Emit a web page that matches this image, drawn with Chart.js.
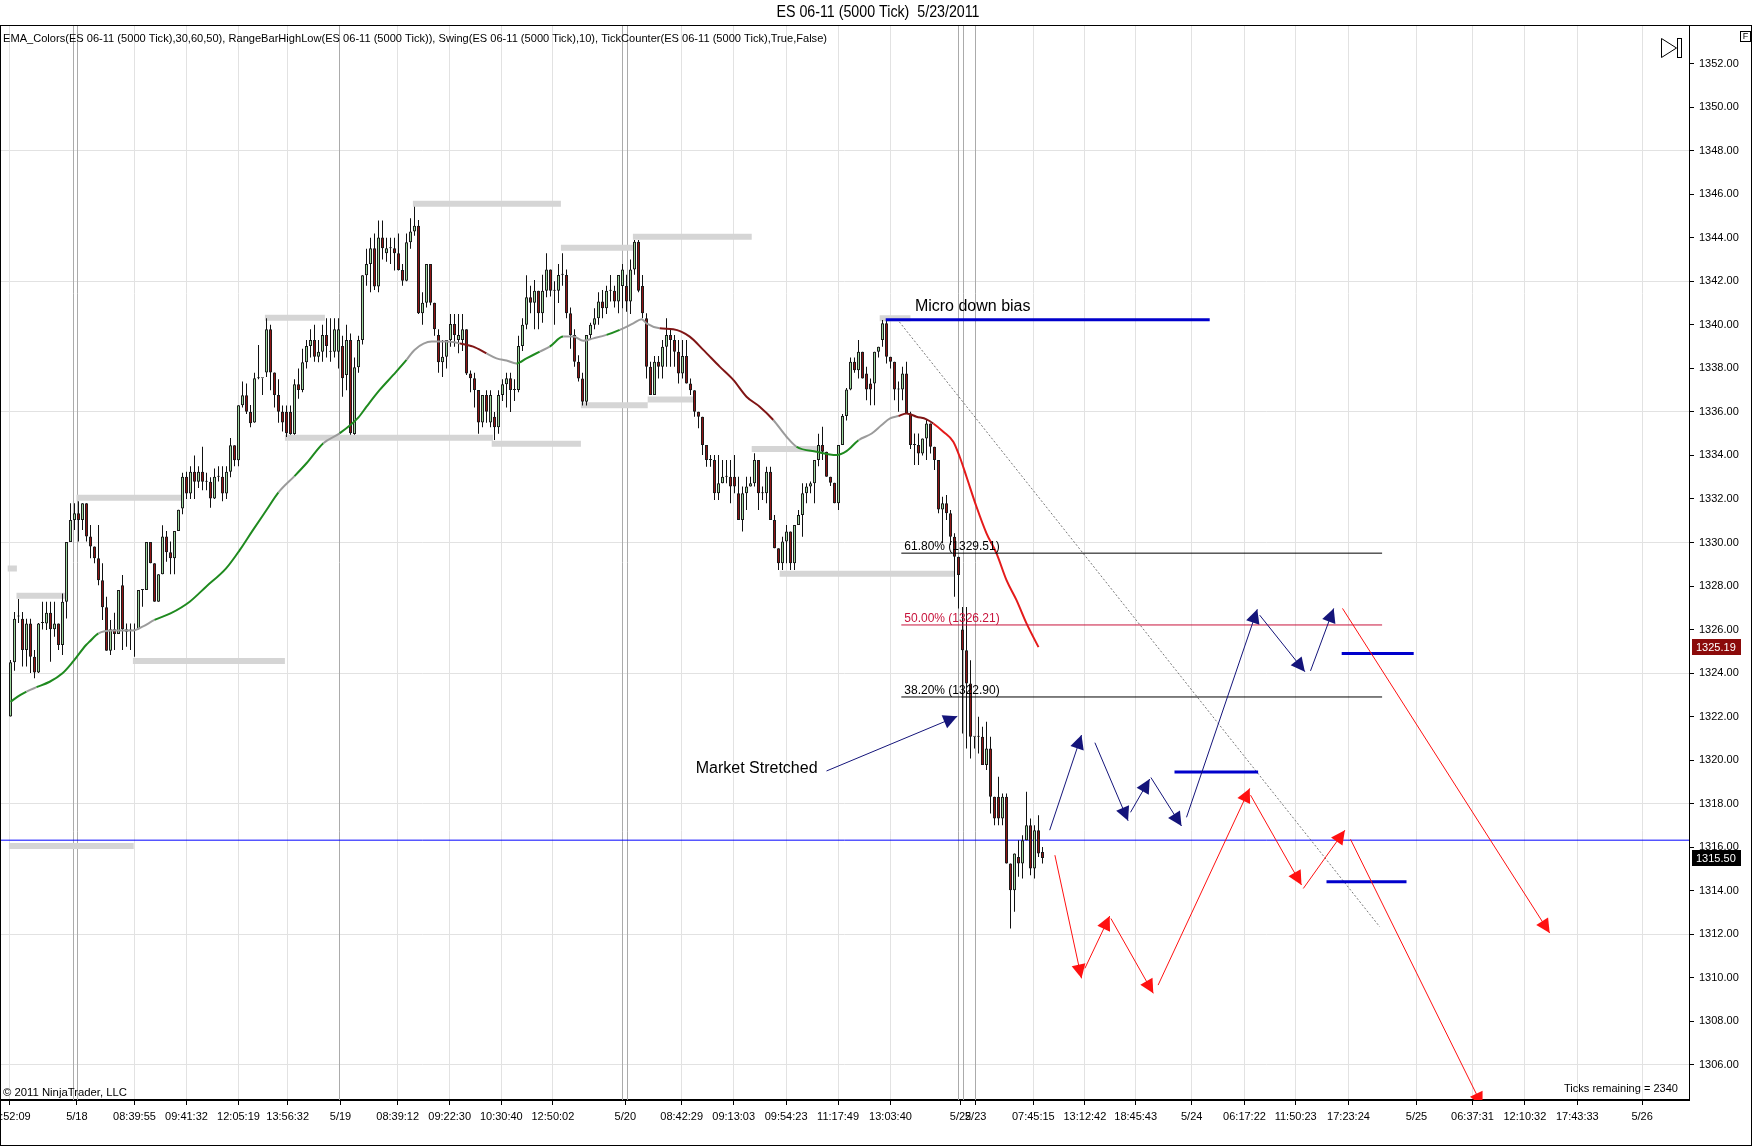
<!DOCTYPE html>
<html>
<head>
<meta charset="utf-8">
<title>ES 06-11 (5000 Tick) 5/23/2011</title>
<script src="https://cdn.jsdelivr.net/npm/chart.js@4.4.1/dist/chart.umd.min.js"></script>
<style>
  html, body { margin: 0; padding: 0; background: #fff; }
  #wrap { width: 1752px; height: 1147px; }
</style>
</head>
<body>
<div id="wrap"><canvas id="esChart" width="1752" height="1147"></canvas></div>
<script>
// bar data, one entry per 5000-tick bar (index = bar number)
const opens = [
  1322.0, 1324.5, 1326.6, 1326.5, 1325.06, 1326.28, 1324.75, 1324.02, 1326.3, 1326.28,
  1326.77, 1326.01, 1326.28, 1325.29, 1327.28, 1330.02, 1331.03, 1331.34, 1331.03, 1331.8,
  1330.27, 1329.81, 1329.27, 1328.27, 1327.02, 1325.03, 1326.01, 1325.79, 1328.04, 1326.01,
  1325.95, 1325.95, 1326.01, 1327.82, 1327.82, 1330.02, 1329.04, 1327.28, 1328.54, 1330.27,
  1329.55, 1329.27, 1330.53, 1331.56, 1333.02, 1332.25, 1333.25, 1332.79, 1333.25, 1332.79,
  1332.79, 1332.02, 1333.02, 1333.02, 1332.25, 1333.25, 1334.47, 1333.78, 1336.31, 1336.77,
  1336.0, 1335.51, 1337.55, 1337.55, 1337.81, 1339.8, 1337.81, 1336.78, 1336.01, 1336.01,
  1336.0, 1334.99, 1337.27, 1337.01, 1338.28, 1339.03, 1339.31, 1338.54, 1338.77, 1339.54,
  1338.77, 1338.77, 1338.77, 1339.03, 1337.7, 1339.31, 1334.99, 1338.05, 1339.31, 1342.28,
  1342.8, 1343.52, 1341.76, 1344.02, 1343.29, 1343.52, 1343.52, 1343.29, 1342.52, 1342.03,
  1343.8, 1344.29, 1344.55, 1340.53, 1341.02, 1342.8, 1341.02, 1339.54, 1338.28, 1338.54,
  1339.31, 1340.04, 1339.31, 1339.31, 1339.8, 1337.77, 1337.55, 1337.01, 1335.51, 1336.78,
  1335.51, 1335.78, 1335.29, 1336.78, 1337.27, 1337.55, 1337.01, 1337.01, 1339.03, 1340.0,
  1341.27, 1341.02, 1341.57, 1340.53, 1341.57, 1342.55, 1341.57, 1341.57, 1342.3, 1342.29,
  1340.53, 1339.54, 1338.31, 1337.54, 1336.47, 1339.54, 1340.0, 1340.3, 1341.07, 1340.76,
  1341.57, 1341.57, 1341.07, 1341.79, 1341.79, 1341.07, 1342.55, 1343.82, 1341.79, 1340.3,
  1338.08, 1336.78, 1338.31, 1338.08, 1339.0, 1339.54, 1339.3, 1338.77, 1337.77, 1338.57,
  1337.31, 1337.0, 1336.01, 1335.78, 1334.48, 1333.79, 1333.79, 1332.26, 1332.72, 1333.02,
  1333.02, 1333.02, 1332.26, 1331.03, 1332.26, 1332.57, 1332.72, 1333.79, 1332.26, 1332.26,
  1333.25, 1331.03, 1329.73, 1329.04, 1330.04, 1330.5, 1329.04, 1330.8, 1331.26, 1332.26,
  1332.57, 1332.72, 1333.79, 1334.48, 1334.17, 1333.02, 1332.75, 1331.8, 1334.48, 1335.81,
  1337.03, 1338.31, 1337.92, 1338.77, 1337.77, 1337.31, 1337.31, 1338.77, 1339.3, 1340.07,
  1338.54, 1338.31, 1337.03, 1337.03, 1337.77, 1335.93, 1334.48, 1334.48, 1334.09, 1334.78,
  1335.47, 1334.4, 1333.79, 1331.52, 1331.8, 1331.34, 1330.26, 1329.34, 1326.0, 1325.05,
  1323.52, 1321.07, 1321.07, 1321.07, 1319.77, 1320.53, 1318.31, 1318.31, 1317.32, 1318.31,
  1315.25, 1314.02, 1315.55, 1315.25, 1316.32, 1317.01, 1315.02, 1316.78, 1315.78
];
const highs = [
  1324.6, 1326.8, 1327.4, 1326.8, 1326.5, 1326.5, 1325.06, 1326.3, 1327.28, 1327.28,
  1327.28, 1327.28, 1326.28, 1327.66, 1330.02, 1331.8, 1331.8, 1331.9, 1331.8, 1331.8,
  1330.8, 1329.81, 1330.8, 1329.04, 1327.51, 1326.44, 1326.77, 1327.82, 1328.5, 1326.28,
  1326.28, 1326.28, 1327.82, 1327.82, 1330.02, 1330.02, 1329.04, 1328.54, 1330.79, 1330.53,
  1330.04, 1330.53, 1331.5, 1333.2, 1333.25, 1333.5, 1334.0, 1333.5, 1334.4, 1333.2,
  1333.0, 1333.4, 1333.5, 1333.5, 1333.5, 1334.8, 1334.47, 1336.31, 1337.4, 1337.3,
  1336.32, 1337.8, 1339.08, 1337.55, 1340.3, 1340.0, 1337.81, 1337.5, 1336.3, 1336.3,
  1336.3, 1337.5, 1338.0, 1338.9, 1339.3, 1339.8, 1340.0, 1339.31, 1340.0, 1340.3,
  1340.3, 1340.3, 1340.3, 1339.5, 1340.0, 1339.6, 1338.5, 1339.5, 1342.28, 1343.5,
  1344.0, 1344.2, 1344.8, 1344.8, 1344.0, 1344.0, 1344.0, 1344.2, 1342.8, 1344.2,
  1344.9, 1345.43, 1344.82, 1341.5, 1342.8, 1342.8, 1341.02, 1339.8, 1339.3, 1339.3,
  1340.5, 1340.5, 1340.5, 1340.5, 1339.8, 1337.9, 1337.8, 1337.01, 1336.78, 1337.0,
  1337.0, 1336.0, 1337.0, 1337.5, 1337.8, 1337.8, 1337.5, 1339.5, 1340.3, 1342.28,
  1341.8, 1342.06, 1341.57, 1342.3, 1343.29, 1342.55, 1342.0, 1342.8, 1343.29, 1342.55,
  1340.8, 1339.8, 1338.6, 1337.8, 1339.54, 1340.1, 1340.76, 1341.5, 1341.6, 1341.8,
  1342.29, 1341.8, 1342.29, 1342.8, 1342.3, 1343.0, 1343.9, 1343.9, 1342.29, 1340.53,
  1338.3, 1338.57, 1338.57, 1339.3, 1340.3, 1339.8, 1339.54, 1339.3, 1339.3, 1339.3,
  1337.54, 1337.0, 1336.01, 1335.78, 1334.48, 1334.02, 1334.02, 1334.02, 1333.79, 1333.79,
  1333.79, 1334.02, 1333.02, 1332.57, 1333.02, 1333.02, 1334.1, 1333.79, 1332.57, 1333.48,
  1333.48, 1331.26, 1329.73, 1330.26, 1330.8, 1330.5, 1330.8, 1331.49, 1332.72, 1332.72,
  1332.8, 1333.79, 1335.0, 1335.32, 1334.17, 1333.02, 1332.75, 1334.48, 1335.9, 1337.1,
  1338.5, 1338.5, 1339.3, 1338.77, 1338.08, 1337.54, 1338.77, 1339.0, 1340.22, 1340.22,
  1338.54, 1338.31, 1337.4, 1338.08, 1338.31, 1336.01, 1335.01, 1335.01, 1334.78, 1335.63,
  1335.47, 1334.4, 1333.79, 1332.1, 1332.18, 1331.49, 1330.42, 1329.34, 1327.04, 1327.04,
  1324.59, 1321.07, 1321.99, 1321.53, 1321.76, 1321.07, 1318.31, 1319.23, 1318.47, 1318.47,
  1315.25, 1315.71, 1316.32, 1316.55, 1318.54, 1317.32, 1317.01, 1317.47, 1316.01
];
const lows = [
  1322.0, 1324.1, 1326.3, 1324.3, 1324.3, 1324.0, 1323.76, 1324.0, 1326.0, 1325.98,
  1324.52, 1325.67, 1325.06, 1324.83, 1326.51, 1330.02, 1330.57, 1330.04, 1330.57, 1330.04,
  1329.27, 1329.04, 1328.04, 1326.44, 1325.03, 1324.83, 1325.06, 1325.79, 1325.06, 1325.21,
  1325.06, 1324.75, 1326.01, 1327.05, 1327.82, 1329.04, 1327.28, 1327.28, 1328.54, 1329.12,
  1328.54, 1328.54, 1330.53, 1331.3, 1332.0, 1332.0, 1332.0, 1332.5, 1332.4, 1332.4,
  1331.6, 1332.0, 1332.8, 1331.9, 1332.0, 1333.0, 1333.5, 1333.5, 1336.2, 1335.9,
  1335.3, 1335.5, 1337.5, 1336.78, 1337.6, 1337.0, 1336.2, 1335.5, 1335.1, 1334.85,
  1334.95, 1334.95, 1336.6, 1336.9, 1338.0, 1338.5, 1338.3, 1338.28, 1338.3, 1338.5,
  1338.3, 1338.5, 1338.0, 1336.7, 1337.0, 1334.95, 1334.95, 1337.8, 1339.1, 1341.8,
  1341.5, 1341.6, 1341.5, 1343.0, 1342.9, 1342.8, 1342.5, 1342.5, 1341.8, 1342.0,
  1343.5, 1344.1, 1340.5, 1340.0, 1340.8, 1340.9, 1339.5, 1337.8, 1337.6, 1338.0,
  1339.0, 1339.0, 1338.7, 1338.8, 1337.7, 1336.9, 1336.2, 1335.0, 1335.3, 1335.5,
  1335.3, 1334.71, 1335.0, 1336.5, 1336.2, 1336.0, 1336.5, 1336.9, 1338.8, 1339.8,
  1340.53, 1339.8, 1339.8, 1340.1, 1341.27, 1341.3, 1340.0, 1341.0, 1341.8, 1340.3,
  1338.9, 1338.08, 1337.4, 1336.3, 1336.3, 1339.3, 1339.8, 1340.0, 1340.3, 1340.5,
  1341.07, 1340.8, 1340.53, 1340.76, 1340.6, 1340.5, 1342.3, 1341.5, 1340.3, 1337.54,
  1336.78, 1336.78, 1337.54, 1337.54, 1338.08, 1338.08, 1338.08, 1337.31, 1337.54, 1337.31,
  1336.78, 1335.78, 1335.25, 1334.02, 1333.48, 1333.48, 1331.95, 1331.95, 1332.72, 1332.72,
  1331.8, 1332.26, 1331.03, 1330.5, 1331.49, 1332.57, 1332.57, 1331.49, 1331.95, 1331.8,
  1331.03, 1329.73, 1328.73, 1328.73, 1329.04, 1328.73, 1328.73, 1330.8, 1330.26, 1331.8,
  1332.26, 1331.8, 1333.5, 1333.79, 1333.02, 1332.6, 1331.8, 1331.49, 1334.48, 1335.6,
  1337.0, 1337.8, 1337.54, 1337.54, 1336.54, 1336.31, 1336.31, 1338.5, 1339.0, 1338.23,
  1338.0, 1336.54, 1336.01, 1336.54, 1335.93, 1334.3, 1333.56, 1333.56, 1334.0, 1333.79,
  1334.09, 1333.33, 1331.34, 1329.96, 1331.03, 1329.88, 1327.51, 1326.97, 1321.22, 1320.53,
  1320.07, 1320.53, 1320.3, 1319.77, 1319.54, 1317.55, 1317.01, 1317.01, 1317.01, 1315.25,
  1312.26, 1313.03, 1314.64, 1314.56, 1316.32, 1314.71, 1314.56, 1315.55, 1315.25
];
const closes = [
  1324.5, 1326.5, 1326.6, 1325.06, 1326.28, 1324.75, 1324.02, 1326.28, 1326.3, 1326.77,
  1326.01, 1326.28, 1325.29, 1327.28, 1330.02, 1331.03, 1331.34, 1331.03, 1331.8, 1330.27,
  1329.81, 1329.27, 1328.27, 1327.02, 1325.03, 1326.01, 1325.79, 1327.82, 1326.01, 1325.9,
  1325.95, 1325.95, 1327.82, 1327.82, 1330.02, 1329.04, 1327.28, 1328.54, 1330.27, 1329.55,
  1329.27, 1330.53, 1331.5, 1333.02, 1332.25, 1333.25, 1332.79, 1333.25, 1332.79, 1332.79,
  1332.02, 1333.02, 1333.02, 1332.25, 1333.25, 1334.47, 1333.78, 1336.31, 1336.77, 1336.01,
  1335.48, 1337.55, 1337.55, 1337.55, 1339.8, 1337.81, 1336.78, 1336.01, 1335.51, 1335.02,
  1334.99, 1337.27, 1337.01, 1338.28, 1339.03, 1339.31, 1338.54, 1338.77, 1339.54, 1339.03,
  1338.77, 1339.8, 1339.8, 1337.55, 1339.31, 1335.02, 1338.05, 1339.31, 1342.28, 1342.8,
  1343.52, 1341.76, 1344.02, 1343.52, 1343.52, 1343.52, 1343.29, 1342.52, 1342.03, 1343.8,
  1344.29, 1344.55, 1340.53, 1341.02, 1342.8, 1341.02, 1339.8, 1338.28, 1338.54, 1339.31,
  1340.04, 1339.54, 1339.54, 1339.8, 1337.77, 1337.55, 1337.01, 1335.51, 1336.78, 1336.01,
  1336.78, 1335.29, 1336.78, 1337.27, 1337.55, 1337.01, 1337.01, 1339.03, 1340.0, 1341.27,
  1341.02, 1341.57, 1340.53, 1341.57, 1342.55, 1341.57, 1341.57, 1342.29, 1342.3, 1340.53,
  1339.54, 1338.31, 1337.54, 1336.47, 1339.54, 1340.0, 1340.3, 1341.07, 1340.76, 1341.57,
  1341.57, 1341.07, 1342.29, 1342.55, 1341.07, 1342.55, 1343.82, 1341.57, 1340.53, 1338.08,
  1336.78, 1338.31, 1338.08, 1339.0, 1339.54, 1339.3, 1338.77, 1337.77, 1338.57, 1337.31,
  1337.0, 1336.01, 1335.78, 1334.48, 1333.79, 1333.79, 1332.26, 1332.72, 1333.02, 1333.02,
  1332.57, 1332.57, 1331.03, 1332.26, 1332.57, 1332.72, 1333.79, 1332.26, 1332.26, 1333.25,
  1331.03, 1329.73, 1329.04, 1330.04, 1330.5, 1329.04, 1330.8, 1331.26, 1332.26, 1332.57,
  1332.72, 1333.79, 1334.48, 1334.17, 1333.02, 1332.75, 1331.8, 1334.48, 1335.81, 1337.03,
  1338.31, 1337.92, 1338.77, 1337.54, 1337.03, 1337.03, 1338.77, 1339.0, 1340.07, 1338.54,
  1338.31, 1337.03, 1337.03, 1337.77, 1335.93, 1334.48, 1334.48, 1334.09, 1334.78, 1335.47,
  1334.4, 1333.79, 1331.52, 1331.8, 1331.34, 1330.26, 1329.34, 1328.5, 1325.05, 1323.52,
  1321.07, 1321.07, 1321.07, 1319.77, 1320.53, 1318.31, 1317.32, 1317.32, 1318.31, 1315.25,
  1314.02, 1315.71, 1315.25, 1316.32, 1317.01, 1315.02, 1316.78, 1315.71, 1315.50
];

// time axis (positions in bar units)
const tickBars = [-0.3, 16.6, 31, 44, 57, 69.3, 82.5, 96.8, 109.8, 122.7, 135.6, 153.7, 167.8, 180.8,
  193.9, 206.9, 220, 237.5, 241.3, 255.7, 268.6, 281.3, 295.3, 308.5, 321.3, 334.5, 351.5, 365.5,
  378.6, 391.7, 407.9];
const tickLabels = ['07:52:09', '5/18', '08:39:55', '09:41:32', '12:05:19', '13:56:32', '5/19',
  '08:39:12', '09:22:30', '10:30:40', '12:50:02', '5/20', '08:42:29', '09:13:03', '09:54:23',
  '11:17:49', '13:03:40', '5/22', '5/23', '07:45:15', '13:12:42', '18:45:43', '5/24', '06:17:22',
  '11:50:23', '17:23:24', '5/25', '06:37:31', '12:10:32', '17:43:33', '5/26'];
const dateLineBars = [15.65, 16.65, 82.0, 152.8, 154.0, 236.9, 238.1, 241.1];
const priceTicks = [1306, 1308, 1310, 1312, 1314, 1316, 1318, 1320, 1322, 1324, 1326, 1328, 1330,
  1332, 1334, 1336, 1338, 1340, 1342, 1344, 1346, 1348, 1350, 1352];
const priceGrid = [1306, 1312, 1318, 1324, 1330, 1336, 1342, 1348];

// EMA_Colors (g rising, n flat, d falling, r falling fast)
const emaBars = [0, 2.5, 4, 6.5, 9.8, 13, 15.6, 18.9, 19.8, 22, 25.5, 30.5, 33, 36, 40, 44.8, 48.9,
  53.9, 57.3, 60.6, 64, 67, 71, 74, 78.2, 82.3, 87, 89, 92.3, 95.7, 99, 101, 105.3, 109, 112.3,
  115.7, 119, 121.5, 124, 126.5, 129, 132.3, 134.8, 138.2, 140.7, 143.2, 145.7, 149, 152.3, 155.7,
  157.8, 159, 162.3, 165.7, 169.8, 173.2, 177.3, 180.7, 184, 187.3, 190.7, 194, 196.5, 201.5,
  206.5, 209, 212, 215.3, 217.8, 219.9, 222, 224, 226.5, 229, 230.7, 233.2, 235.7, 237.3, 239,
  241.5, 244, 246.5, 249, 251.5, 254, 257];
const emaValues = [1322.68, 1323.0, 1323.15, 1323.35, 1323.6, 1323.99, 1324.52, 1325.29, 1325.45,
  1325.82, 1325.95, 1325.95, 1326.13, 1326.44, 1326.74, 1327.28, 1327.97, 1328.81, 1329.65,
  1330.57, 1331.49, 1332.3, 1333.05, 1333.64, 1334.56, 1335.02, 1335.75, 1336.24, 1337.01, 1337.7,
  1338.39, 1338.85, 1339.23, 1339.23, 1339.15, 1339.0, 1338.69, 1338.46, 1338.36, 1338.23, 1338.46,
  1338.77, 1339.0, 1339.46, 1339.46, 1339.27, 1339.38, 1339.54, 1339.77, 1340.07, 1340.26,
  1340.07, 1339.84, 1339.8, 1339.46, 1338.85, 1338.08, 1337.47, 1336.7, 1336.24, 1335.63,
  1334.86, 1334.4, 1334.17, 1334.02, 1334.2, 1334.7, 1335.01, 1335.4, 1335.7, 1335.81, 1335.93,
  1335.78, 1335.66, 1335.47, 1335.09, 1334.63, 1333.94, 1333.02, 1331.64, 1330.42, 1329.5,
  1328.27, 1327.35, 1326.28, 1325.19];
const emaColors = 'ggnggggggnnnnggggggggnggngggggnnnnddnnnggngnnnngnnnnddddddddnnggggnnnnddddrrrrrrrrrr';

// RangeBarHighLow / Swing levels
const swingFrom = [-0.7, 1.5, 16.5, -0.4, 30.6, 63.6, 68.6, 100.6, 120.3, 137.6, 142.6, 155.6, 159.3, 185.3, 192.3, 217.3];
const swingTo = [1.6, 13.6, 42.75, 30.8, 68.6, 78.6, 120.6, 137.6, 142.6, 155.6, 159.3, 185.3, 170.6, 202.6, 236.1, 225];
const swingLevel = [1328.8, 1327.55, 1332.06, 1316.05, 1324.55, 1340.33, 1334.81, 1345.57, 1334.54,
  1343.54, 1336.31, 1344.05, 1336.57, 1334.3, 1328.56, 1340.3];

// hand drawn objects
const levelFrom = [218.8, 291.0, 332.8, 329.0];
const levelTo = [299.8, 311.9, 350.8, 349.0];
const levelPrice = [1340.24, 1319.45, 1324.9, 1314.41];
const fibNames = ['61.80%', '50.00%', '38.20%'];
const fibLevels = [1329.51, 1326.21, 1322.90];
const fibColors = ['#000000', '#c8143c', '#000000'];
const fibSpan = [222.7, 342.9];
const trendLine = [222.2, 1340.14, 342.3, 1312.34];
const priceLine = 1316.32;
const navyArrows = [
  [204.0, 1319.5, 236.7, 1322.01],
  [259.8, 1316.78, 267.75, 1321.15],
  [271.1, 1320.8, 279.4, 1317.21],
  [280.0, 1317.6, 284.8, 1319.13],
  [285.1, 1319.2, 292.75, 1316.97],
  [294.0, 1317.37, 311.7, 1326.93],
  [312.3, 1326.66, 323.6, 1324.06],
  [325.0, 1324.1, 330.8, 1326.97]
];
const redArrows = [
  [261.1, 1315.63, 267.75, 1309.97],
  [268.6, 1310.43, 274.8, 1312.83],
  [275.1, 1312.72, 285.7, 1309.28],
  [286.9, 1309.66, 309.8, 1318.7],
  [310.0, 1318.39, 322.75, 1314.26],
  [323.2, 1314.1, 333.6, 1316.78],
  [335.0, 1316.36, 368.0, 1304.09],
  [333.0, 1326.97, 384.8, 1312.05]
];
const notes = [
  { text: 'Micro down bias', bar: 226.1, price: 1340.86 },
  { text: 'Market Stretched', bar: 171.3, price: 1319.6 }
];

const FONT = '"Liberation Sans", Arial, sans-serif';
const UP = '#9cd69c', DOWN = '#901414';
const EMA_PALETTE = { g: '#1f8a1f', n: '#9b9b9b', d: '#801515', r: '#e41b1b' };

Chart.defaults.font.family = FONT;

const bars = opens.map((_, i) => i);
const segmentsToPoints = (list) => {
  const pts = [];
  list.forEach(s => { pts.push({ x: s[0], y: s[1] }, { x: s[2], y: s[3] }, { x: s[2], y: null }); });
  return pts;
};
const flatToPoints = (from, to, level) => {
  const pts = [];
  level.forEach((v, k) => { pts.push({ x: from[k], y: v }, { x: to[k], y: v }, { x: to[k], y: null }); });
  return pts;
};

const lineBase = { type: 'line', pointRadius: 0, borderCapStyle: 'butt', spanGaps: false, tension: 0 };

const datasets = [
  {
    type: 'bar', label: 'body', order: 5, grouped: false,
    data: bars.map(i => ({ x: i, y: [Math.min(opens[i], closes[i]), Math.max(opens[i], closes[i])] })),
    backgroundColor: bars.map(i => closes[i] >= opens[i] ? UP : DOWN),
    borderColor: '#1c1c1c', borderWidth: 1, borderSkipped: false,
    barThickness: 3, maxBarThickness: 3, minBarLength: 1, inflateAmount: 0
  },
  {
    type: 'bar', label: 'wick', order: 6, grouped: false,
    data: bars.map(i => ({ x: i, y: [lows[i], highs[i]] })),
    backgroundColor: '#111', borderWidth: 0,
    barThickness: 1, maxBarThickness: 1, minBarLength: 1, inflateAmount: 0
  },
  {
    ...lineBase, label: 'EMA', order: 4, borderWidth: 2, cubicInterpolationMode: 'monotone',
    data: emaBars.map((b, k) => ({ x: b, y: emaValues[k] })),
    borderColor: EMA_PALETTE.g,
    segment: { borderColor: c => EMA_PALETTE[emaColors[c.p0DataIndex]] || EMA_PALETTE.r }
  },
  {
    ...lineBase, label: 'swing', order: 10, borderWidth: 6, borderColor: '#d5d5d5',
    data: flatToPoints(swingFrom, swingTo, swingLevel)
  },
  {
    ...lineBase, label: 'price line', order: 9, borderWidth: 1, borderColor: '#0000ff',
    data: [{ x: -2.625, y: priceLine }, { x: 419.625, y: priceLine }]
  },
  {
    ...lineBase, label: 'fib black', order: 3, borderWidth: 1, borderColor: '#000',
    data: flatToPoints([fibSpan[0], fibSpan[0]], [fibSpan[1], fibSpan[1]], [fibLevels[0], fibLevels[2]])
  },
  {
    ...lineBase, label: 'fib mid', order: 3, borderWidth: 1, borderColor: fibColors[1],
    data: [{ x: fibSpan[0], y: fibLevels[1] }, { x: fibSpan[1], y: fibLevels[1] }]
  },
  {
    ...lineBase, label: 'trend', order: 3, borderWidth: 1, borderColor: '#777', borderDash: [2, 2],
    data: segmentsToPoints([trendLine])
  },
  {
    ...lineBase, label: 'levels', order: 2, borderWidth: 3, borderColor: '#0000cc',
    data: flatToPoints(levelFrom, levelTo, levelPrice)
  },
  {
    ...lineBase, label: 'navy', order: 1, borderWidth: 1, borderColor: '#14147a',
    data: segmentsToPoints(navyArrows)
  },
  {
    ...lineBase, label: 'red', order: 1, borderWidth: 1, borderColor: '#ff1010',
    data: segmentsToPoints(redArrows)
  }
];

function fitText(ctx, text, x, y, width, align) {
  const w = ctx.measureText(text).width;
  const sx = width / w;
  ctx.save();
  ctx.translate(x, y);
  ctx.scale(sx, 1);
  ctx.textAlign = align;
  ctx.fillText(text, 0, 0);
  ctx.restore();
}

function arrowHead(ctx, x0, y0, x1, y1, color) {
  const a = Math.atan2(y1 - y0, x1 - x0);
  const len = 14, half = 7;
  const bx = x1 - len * Math.cos(a), by = y1 - len * Math.sin(a);
  ctx.fillStyle = color;
  ctx.beginPath();
  ctx.moveTo(x1, y1);
  ctx.lineTo(bx + half * Math.sin(a), by - half * Math.cos(a));
  ctx.lineTo(bx - half * Math.sin(a), by + half * Math.cos(a));
  ctx.closePath();
  ctx.fill();
}

const overlay = {
  id: 'overlay',
  beforeDatasetsDraw(chart) {
    const { ctx, chartArea: a, scales: { x } } = chart;
    ctx.save();
    ctx.strokeStyle = '#ababab';
    ctx.lineWidth = 1;
    dateLineBars.forEach(b => {
      const px = Math.round(x.getPixelForValue(b)) + 0.5;
      ctx.beginPath(); ctx.moveTo(px, a.top); ctx.lineTo(px, a.bottom); ctx.stroke();
    });
    ctx.restore();
  },
  afterDatasetsDraw(chart) {
    const { ctx, chartArea: a, scales: { x, y } } = chart;
    ctx.save();
    ctx.beginPath();
    ctx.rect(a.left, a.top, a.right - a.left, a.bottom - a.top);
    ctx.clip();
    const heads = (list, color) => list.forEach(s => arrowHead(ctx,
      x.getPixelForValue(s[0]), y.getPixelForValue(s[1]),
      x.getPixelForValue(s[2]), y.getPixelForValue(s[3]), color));
    heads(navyArrows, '#14147a');
    heads(redArrows, '#ff1010');

    ctx.textBaseline = 'alphabetic';
    ctx.textAlign = 'left';
    ctx.font = '12px ' + FONT;
    fibLevels.forEach((lv, k) => {
      ctx.fillStyle = fibColors[k];
      ctx.fillText(fibNames[k] + ' (' + lv.toFixed(2) + ')', x.getPixelForValue(fibSpan[0]) + 3, y.getPixelForValue(lv) - 3);
    });

    ctx.fillStyle = '#000';
    ctx.font = '16px ' + FONT;
    ctx.textBaseline = 'middle';
    notes.forEach(n => ctx.fillText(n.text, x.getPixelForValue(n.bar), y.getPixelForValue(n.price)));

    ctx.font = '11px ' + FONT;
    ctx.textBaseline = 'middle';
    fitText(ctx, '\u00a9 2011 NinjaTrader, LLC', 3, 1093, 124, 'left');
    fitText(ctx, 'Ticks remaining = 2340', 1678, 1089, 114, 'right');
    ctx.restore();
  },
  afterDraw(chart) {
    const { ctx, scales: { y } } = chart;
    ctx.save();
    ctx.fillStyle = '#000';
    ctx.textBaseline = 'middle';
    ctx.font = '16px ' + FONT;
    fitText(ctx, 'ES 06-11 (5000 Tick)  5/23/2011', 878, 13, 203, 'center');
    ctx.font = '11px ' + FONT;
    fitText(ctx, 'EMA_Colors(ES 06-11 (5000 Tick),30,60,50), RangeBarHighLow(ES 06-11 (5000 Tick)), Swing(ES 06-11 (5000 Tick),10), TickCounter(ES 06-11 (5000 Tick),True,False)', 3, 39, 824, 'left');

    // value tags on the price axis
    const tag = (v, fill) => {
      const py = Math.round(y.getPixelForValue(v));
      ctx.fillStyle = fill;
      ctx.fillRect(1692, py - 8, 49, 16);
      ctx.fillStyle = '#fff';
      ctx.font = '11px ' + FONT;
      ctx.textAlign = 'left';
      ctx.fillText(v.toFixed(2), 1696, py + 0.5);
    };
    tag(emaValues[emaValues.length - 1], '#8b0a0a');
    tag(closes[closes.length - 1], '#000');

    // scroll-to-end icon and F box
    ctx.strokeStyle = '#000';
    ctx.lineWidth = 1;
    ctx.beginPath();
    ctx.moveTo(1661.5, 38.5); ctx.lineTo(1676.5, 48); ctx.lineTo(1661.5, 57.5); ctx.closePath();
    ctx.stroke();
    ctx.strokeRect(1677.5, 38.5, 4, 19);
    ctx.strokeRect(1740.5, 31.5, 10, 10);
    ctx.font = '9px ' + FONT;
    ctx.fillStyle = '#000';
    ctx.textAlign = 'center';
    ctx.fillText('F', 1745.5, 37);

    // outer frame
    ctx.strokeRect(0.5, 25.5, 1751, 1120);
    ctx.restore();
  }
};

new Chart(document.getElementById('esChart'), {
  type: 'bar',
  data: { datasets },
  options: {
    responsive: false,
    animation: false,
    events: [],
    layout: { padding: { top: 25, left: 0, right: 0, bottom: 0 } },
    plugins: { legend: { display: false }, tooltip: { enabled: false }, title: { display: false } },
    scales: {
      x: {
        type: 'linear', min: -2.625, max: 419.625, offset: false,
        afterBuildTicks: s => { s.ticks = tickBars.map(v => ({ value: v })); },
        afterFit: s => { s.height = 47; s.paddingLeft = 0; s.paddingRight = 0; },
        ticks: {
          autoSkip: false, maxRotation: 0, minRotation: 0, padding: 5,
          color: '#000', font: { size: 11 },
          callback: (v, idx) => tickLabels[idx]
        },
        grid: {
          // session dates inside the loaded bars get their own darker separators
          color: c => (c.tick && c.tick.value < closes.length && tickLabels[c.index] && tickLabels[c.index].includes('/'))
            ? 'rgba(0,0,0,0)' : '#e2e2e2',
          tickColor: '#000', tickLength: 5, offset: false
        },
        border: { color: '#000', width: 2 }
      },
      y: {
        type: 'linear', position: 'right', min: 1304.38, max: 1353.78,
        afterBuildTicks: s => { s.ticks = priceTicks.map(v => ({ value: v })); },
        afterFit: s => { s.width = 63; s.paddingTop = 0; s.paddingBottom = 0; },
        ticks: { padding: 5, color: '#000', font: { size: 11 }, callback: v => v.toFixed(2) },
        grid: {
          color: c => priceGrid.includes(c.tick && c.tick.value) ? '#e2e2e2' : 'rgba(0,0,0,0)',
          tickColor: '#000', tickLength: 5
        },
        border: { color: '#000', width: 1 }
      }
    }
  },
  plugins: [overlay]
});
</script>
</body>
</html>
